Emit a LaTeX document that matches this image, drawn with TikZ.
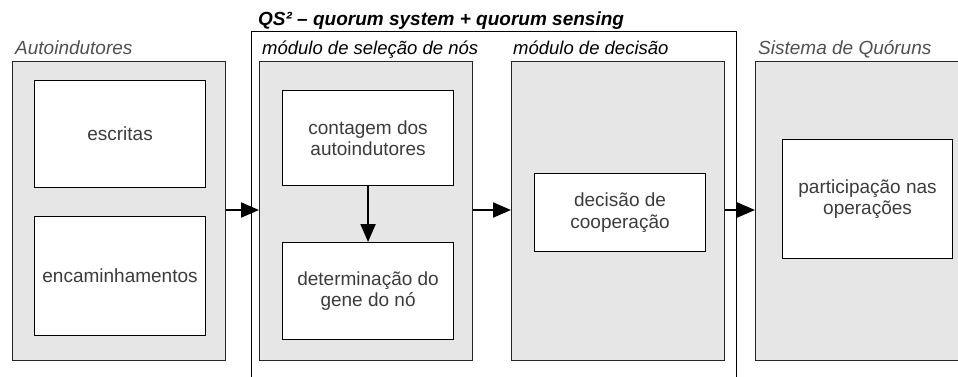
\documentclass[tikz,border=0pt]{standalone}
\usepackage{fontspec}
\setmainfont{Liberation Sans}
\usetikzlibrary{arrows.meta,positioning}
\definecolor{panelfill}{HTML}{E6E6E6}
\definecolor{bodytext}{HTML}{3C3C3C}
\definecolor{graytitle}{HTML}{505050}
\tikzset{
  panel/.style={draw=black!85, line width=1pt, fill=panelfill, anchor=north west, inner sep=0pt},
  stagebox/.style={draw=black, line width=1.1pt, fill=white, anchor=north west, inner sep=0pt,
    align=center, text=bodytext, font=\fontsize{19}{21.5}\selectfont},
  paneltitle/.style={anchor=base west, inner sep=0pt, font=\fontsize{18.5}{20}\selectfont\itshape},
  flow/.style={line width=2pt, -{Triangle[length=18pt,width=15pt]}}
}
\begin{document}
\begin{tikzpicture}[x=1pt,y=-1pt]
\useasboundingbox (0,0) rectangle (958,376);
\clip (0,0) rectangle (958,376);
\fill[white] (0,0) rectangle (958,376);

% outer QS^2 frame (open towards the bottom)
\draw[line width=1pt] (251,400) -- (251,31) -- (736,31) -- (736,400);
\node[anchor=base west, inner sep=0pt, font=\fontsize{19}{20}\selectfont\bfseries\itshape] (qs) at (258,25)
  {QS² – quorum system + quorum sensing};

% panels
\node[panel, minimum width=213pt, minimum height=299pt] (p1) at (12,61) {};
\node[panel, minimum width=213pt, minimum height=299pt] (p2) at (259,61) {};
\node[panel, minimum width=213pt, minimum height=299pt] (p3) at (511,61) {};
\node[panel, minimum width=230pt, minimum height=299pt] (p4) at (755,61) {};

% panel titles
\node[paneltitle, text=graytitle, font=\fontsize{19}{20}\selectfont\itshape] (t1) at (15,54) {Autoindutores};
\node[paneltitle] (t2) at (262,54) {módulo de seleção de nós};
\node[paneltitle] (t3) at (513,54) {módulo de decisão};
\node[paneltitle, text=graytitle, font=\fontsize{19}{20}\selectfont\itshape] (t4) at (758,54) {Sistema de Quóruns};

% inner boxes
\node[stagebox, minimum width=171pt, minimum height=107pt] (esc) at (34,80) {escritas};
\node[stagebox, minimum width=171pt, minimum height=119pt] (enc) at (34,216) {encaminhamentos};
\node[stagebox, minimum width=171pt, minimum height=95pt] (cont) at (282,90) {contagem dos\\autoindutores};
\node[stagebox, minimum width=171pt, minimum height=97pt] (det) at (282,242) {determinação do\\gene do nó};
\node[stagebox, minimum width=171pt, minimum height=78pt] (dec) at (534,173) {decisão de\\cooperação};
\node[stagebox, minimum width=170pt, minimum height=119pt] (part) at (782,139) {participação nas\\operações};

% connectors
\coordinate (a1s) at (p1.east |- 0,210);
\coordinate (a1e) at (p2.west |- 0,210);
\coordinate (a2s) at (p2.east |- 0,210);
\coordinate (a2e) at (p3.west |- 0,210);
\coordinate (a3s) at (p3.east |- 0,210);
\coordinate (a3e) at (p4.west |- 0,210);
\draw[flow] (a1s) -- (a1e);
\draw[flow] (a2s) -- (a2e);
\draw[flow] (a3s) -- (a3e);
\draw[flow] (cont.south) -- (det.north);
\end{tikzpicture}
\end{document}
